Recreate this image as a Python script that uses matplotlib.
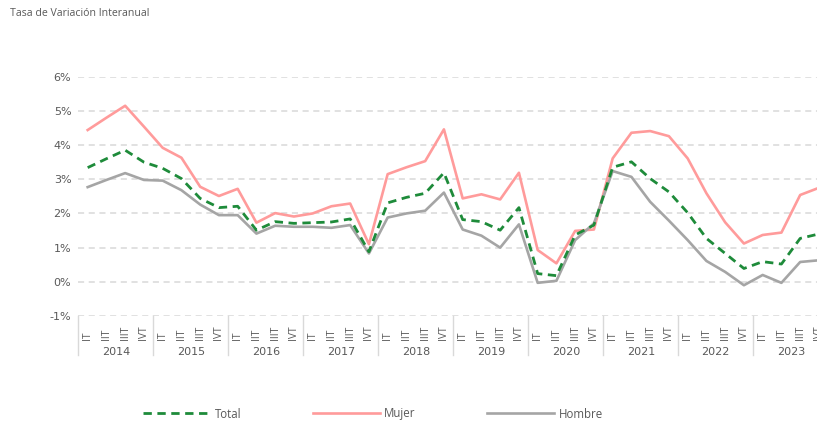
import matplotlib.pyplot as plt
from matplotlib.lines import Line2D
import matplotlib.transforms as mtransforms

plt.rcParams['font.family'] = ['Open Sans', 'DejaVu Sans']

# Data (tasa de variación interanual, %)
years = ['2014', '2015', '2016', '2017', '2018', '2019', '2020', '2021', '2022', '2023']
quarters = ['IT', 'IIT', 'IIIT', 'IVT']

total = [3.34, 3.60, 3.85, 3.50, 3.32, 3.02, 2.44, 2.17, 2.21, 1.51, 1.76, 1.71,
         1.73, 1.75, 1.84, 0.88, 2.31, 2.47, 2.59, 3.19, 1.82, 1.76, 1.51, 2.17,
         0.24, 0.18, 1.37, 1.66, 3.35, 3.51, 3.02, 2.63, 2.02, 1.27, 0.83, 0.39,
         0.59, 0.52, 1.27, 1.40]
mujer = [4.44, 4.80, 5.15, 4.54, 3.92, 3.63, 2.78, 2.51, 2.72, 1.73, 2.01, 1.91,
         2.00, 2.21, 2.29, 1.10, 3.15, 3.35, 3.53, 4.46, 2.44, 2.56, 2.41, 3.19,
         0.93, 0.54, 1.49, 1.53, 3.61, 4.36, 4.41, 4.26, 3.61, 2.59, 1.74, 1.12,
         1.37, 1.44, 2.54, 2.75]
hombre = [2.77, 2.98, 3.18, 2.98, 2.96, 2.68, 2.26, 1.95, 1.95, 1.41, 1.64, 1.61,
          1.61, 1.58, 1.66, 0.83, 1.88, 2.00, 2.08, 2.61, 1.53, 1.35, 1.00, 1.68,
          -0.03, 0.03, 1.22, 1.71, 3.24, 3.07, 2.34, 1.79, 1.22, 0.61, 0.29, -0.10,
          0.20, -0.03, 0.58, 0.63]

green = '#1E8B3A'
pink = '#FF9B9B'
grey = '#A5A5A5'
text_col = '#595959'

W, H = 817, 421
fig = plt.figure(figsize=(W / 100, H / 100), dpi=100)
ax = fig.add_axes([78.3 / W, (H - 316) / H, 750 / W, (316 - 76.7) / H])

x = list(range(len(total)))
ax.plot(x, mujer, color=pink, lw=1.9, zorder=3)
ax.plot(x, hombre, color=grey, lw=1.9, zorder=3)
ax.plot(x, total, color=green, lw=2.0, dashes=(3, 2), zorder=4)

ax.set_xlim(-0.5, len(total) - 0.5)
ax.set_ylim(-1, 6)
ax.set_yticks(range(-1, 7))
ax.set_yticklabels([f'{v}%' for v in range(-1, 7)], family='DejaVu Sans')
ax.tick_params(axis='y', length=0, labelsize=8, labelcolor=text_col, pad=5)
ax.tick_params(axis='x', length=0, labelbottom=False)
for s in ax.spines.values():
    s.set_visible(False)
ax.grid(axis='y', color='#D9D9D9', lw=1.1, dashes=(4, 3))
ax.set_axisbelow(True)

# two-level category axis
trans = mtransforms.blended_transform_factory(ax.transData, fig.transFigure)
for i in x:
    ax.text(i, (H - 340) / H, quarters[i % 4], transform=trans, rotation=90,
            ha='center', va='bottom', fontsize=7.5, color=text_col)
for k, yr in enumerate(years):
    ax.text(k * 4 + 1.5, (H - 352) / H, yr, transform=trans, ha='center',
            va='center', fontsize=8, color=text_col, family='DejaVu Sans')
for k in range(len(years) + 1):
    ax.plot([k * 4 - 0.5] * 2, [(H - 316) / H, (H - 355) / H], transform=trans,
            color='#D9D9D9', lw=1, clip_on=False)

fig.text(10 / W, (H - 14) / H, 'Tasa de Variación Interanual', fontsize=7.6,
         color=text_col, va='center')

handles = [Line2D([], [], color=green, lw=2.0, dashes=(3, 2)),
           Line2D([], [], color=pink, lw=1.9),
           Line2D([], [], color=grey, lw=1.9)]
fig.legend(handles, ['Total', 'Mujer', 'Hombre'], loc='center',
           bbox_to_anchor=(373 / W, (H - 414) / H), ncol=3, frameon=False,
           fontsize=8.3, labelcolor=text_col, handlelength=5.8,
           handletextpad=0.4, columnspacing=6.2)

fig.savefig('out.png', dpi=100)
